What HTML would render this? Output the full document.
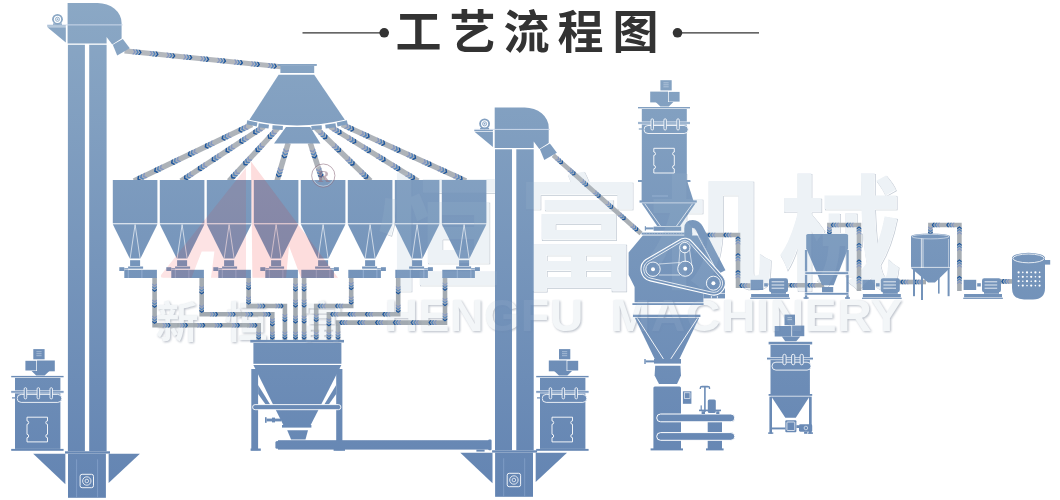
<!DOCTYPE html>
<html><head><meta charset="utf-8"><title>Process flow</title>
<style>html,body{margin:0;padding:0;background:#fff}svg{display:block}text{font-family:"Liberation Sans",sans-serif}</style>
</head><body>
<svg width="1060" height="500" viewBox="0 0 1060 500">
<defs><linearGradient id="g" gradientUnits="userSpaceOnUse" x1="0" y1="0" x2="0" y2="500"><stop offset="0" stop-color="#8ba8c5"/><stop offset="1" stop-color="#6384b2"/></linearGradient><linearGradient id="gp" gradientUnits="userSpaceOnUse" x1="0" y1="0" x2="0" y2="500"><stop offset="0" stop-color="#b8bbc0"/><stop offset="1" stop-color="#96a0a8"/></linearGradient><filter id="bl" x="-5%" y="-20%" width="110%" height="140%"><feGaussianBlur stdDeviation="0.9"/></filter></defs>
<rect width="1060" height="500" fill="#fff"/>
<text x="377 517 648 778" y="279" font-size="124" font-weight="bold" style="font-family:'Liberation Sans','Noto Sans CJK SC',sans-serif" fill="none" stroke="#93a3b5" stroke-opacity="0.55" stroke-width="0.7" transform="translate(0.7,0.7)">恒富机械</text>
<text x="377 517 648 778" y="279" font-size="124" font-weight="bold" style="font-family:'Liberation Sans','Noto Sans CJK SC',sans-serif" fill="#edf2f6">恒富机械</text>
<g fill="#55637a" opacity="0.4" filter="url(#bl)" transform="translate(1.1,1.3)"><text x="155.5 224.5 300.5" y="337.5" font-size="43" font-weight="bold" style="font-family:'Liberation Sans','Noto Sans CJK SC',sans-serif">新恒富</text><text transform="translate(384.4,330.6) scale(1.07,1)" font-size="43.5" font-weight="bold" letter-spacing="0.45">HENGFU</text><text transform="translate(610.5,330.6) scale(1.1,1)" font-size="43.5" font-weight="bold" letter-spacing="0.45">MACHINERY</text></g>
<g fill="#f3f6f8"><text x="155.5 224.5 300.5" y="337.5" font-size="43" font-weight="bold" style="font-family:'Liberation Sans','Noto Sans CJK SC',sans-serif">新恒富</text><text transform="translate(384.4,330.6) scale(1.07,1)" font-size="43.5" font-weight="bold" letter-spacing="0.45">HENGFU</text><text transform="translate(610.5,330.6) scale(1.1,1)" font-size="43.5" font-weight="bold" letter-spacing="0.45">MACHINERY</text></g>
<g fill="url(#g)">
<g fill="#333">
<line x1="302.5" y1="32.8" x2="383" y2="32.8" stroke="#333" stroke-width="1.2"/>
<line x1="679" y1="32.8" x2="759" y2="32.8" stroke="#333" stroke-width="1.2"/>
<circle cx="384.2" cy="32.8" r="4.8" fill="#333"/>
<circle cx="677.5" cy="32.8" r="4.8" fill="#333"/>
<text x="395.5 449.5 503.5 557.5 612.5" y="48" font-size="46" font-weight="bold" fill="#333" style="font-family:'Liberation Sans','Noto Sans CJK SC',sans-serif">工艺流程图</text>
</g>
<polyline points="124.5,50.9 281,66.8" fill="none" stroke="url(#gp)" stroke-width="5.1" stroke-linejoin="miter"/>
<polyline points="252,124.5 134,181" fill="none" stroke="url(#gp)" stroke-width="5.5" stroke-linejoin="miter"/>
<polyline points="264,126.5 181,181" fill="none" stroke="url(#gp)" stroke-width="5.5" stroke-linejoin="miter"/>
<polyline points="278,128 229,181" fill="none" stroke="url(#gp)" stroke-width="5.5" stroke-linejoin="miter"/>
<polyline points="288.2,143 277,181" fill="none" stroke="url(#gp)" stroke-width="5.5" stroke-linejoin="miter"/>
<polyline points="310.3,143 322.6,181" fill="none" stroke="url(#gp)" stroke-width="5.5" stroke-linejoin="miter"/>
<polyline points="316,128 370.5,181" fill="none" stroke="url(#gp)" stroke-width="5.5" stroke-linejoin="miter"/>
<polyline points="330,126.5 418,181" fill="none" stroke="url(#gp)" stroke-width="5.5" stroke-linejoin="miter"/>
<polyline points="342,124.5 466,181" fill="none" stroke="url(#gp)" stroke-width="5.5" stroke-linejoin="miter"/>
<path fill="#8497c2" d="M135.9,52.1 134.2,49.3 132.6,49.2 134.2,51.9 132.1,54.2 133.7,54.4zM152.8,53.8 151.2,51 149.5,50.9 151.1,53.6 149,56 150.6,56.1zM169.7,55.5 168.1,52.8 166.4,52.6 168,55.3 165.9,57.7 167.6,57.8zM186.6,57.2 185,54.5 183.3,54.3 184.9,57 182.8,59.4 184.5,59.6zM203.5,58.9 201.9,56.2 200.2,56 201.9,58.8 199.7,61.1 201.4,61.3zM220.4,60.6 218.8,57.9 217.2,57.8 218.8,60.5 216.6,62.8 218.3,63zM237.3,62.4 235.7,59.6 234.1,59.5 235.7,62.2 233.6,64.5 235.2,64.7zM254.3,64.1 252.6,61.4 251,61.2 252.6,63.9 250.5,66.3 252.1,66.4zM271.2,65.8 269.6,63.1 267.9,62.9 269.5,65.6 267.4,68 269,68.1zM244,128.3 247,129.9 248.7,129.2 245.6,127.5 246.3,124.2 244.7,125zM227.2,136.4 230.2,138 231.8,137.2 228.8,135.6 229.4,132.3 227.8,133zM210.3,144.5 213.3,146.1 214.9,145.3 211.9,143.7 212.6,140.3 210.9,141.1zM193.4,152.5 196.5,154.1 198.1,153.4 195.1,151.8 195.7,148.4 194.1,149.2zM176.6,160.6 179.6,162.2 181.2,161.4 178.2,159.8 178.8,156.5 177.2,157.3zM159.7,168.7 162.8,170.3 164.4,169.5 161.3,167.9 162,164.5 160.4,165.3zM142.9,176.8 145.9,178.4 147.5,177.6 144.5,176 145.1,172.6 143.5,173.4zM258.4,130.2 261.6,131.4 263.1,130.4 259.9,129.2 260.1,125.8 258.6,126.8zM244.6,139.3 247.8,140.5 249.3,139.5 246.1,138.3 246.2,134.9 244.7,135.9zM230.7,148.4 233.9,149.5 235.4,148.5 232.2,147.4 232.4,144 230.9,144.9zM216.9,157.4 220.1,158.6 221.6,157.6 218.4,156.4 218.6,153 217.1,154zM203.1,166.5 206.3,167.7 207.8,166.7 204.6,165.5 204.7,162.1 203.2,163.1zM189.2,175.6 192.4,176.8 193.9,175.8 190.7,174.6 190.9,171.2 189.4,172.2zM272.4,134 275.8,134.4 277,133.1 273.6,132.7 273,129.4 271.8,130.7zM260.2,147.3 263.6,147.7 264.8,146.3 261.4,146 260.8,142.6 259.5,143.9zM247.9,160.5 251.3,160.9 252.5,159.6 249.1,159.2 248.5,155.9 247.3,157.2zM235.7,173.8 239.1,174.2 240.3,172.8 236.9,172.5 236.3,169.1 235,170.4zM285.4,152.6 288.6,151.4 289.1,149.7 285.9,150.8 283.8,148.1 283.3,149.8zM279.8,171.6 283,170.4 283.5,168.7 280.3,169.8 278.2,167.1 277.7,168.8zM313.4,152.6 315.4,149.9 314.9,148.2 312.9,150.9 309.6,149.8 310.2,151.6zM319.6,171.6 321.6,168.9 321,167.2 319,169.9 315.8,168.8 316.3,170.6zM322.6,134.4 323,131 321.7,129.8 321.3,133.1 317.9,133.7 319.2,134.9zM336.2,147.6 336.7,144.3 335.4,143 334.9,146.4 331.5,146.9 332.8,148.2zM349.8,160.9 350.3,157.5 349,156.3 348.5,159.6 345.2,160.2 346.4,161.4zM363.4,174.1 363.9,170.8 362.6,169.5 362.2,172.9 358.8,173.4 360.1,174.7zM336.3,130.4 336,127 334.5,126.1 334.8,129.5 331.6,130.7 333.1,131.7zM351,139.5 350.7,136.1 349.2,135.1 349.4,138.5 346.3,139.8 347.8,140.8zM365.6,148.6 365.4,145.2 363.8,144.2 364.1,147.6 360.9,148.9 362.5,149.8zM380.3,157.7 380,154.2 378.5,153.3 378.8,156.7 375.6,158 377.1,158.9zM395,166.7 394.7,163.3 393.2,162.4 393.4,165.8 390.3,167.1 391.8,168zM409.6,175.8 409.4,172.4 407.8,171.5 408.1,174.9 404.9,176.1 406.5,177.1zM348.5,127.5 347.8,124.1 346.2,123.4 346.9,126.7 343.9,128.4 345.6,129.1zM364,134.5 363.3,131.2 361.7,130.5 362.4,133.8 359.4,135.5 361.1,136.2zM379.5,141.6 378.8,138.3 377.2,137.5 377.9,140.9 374.9,142.5 376.6,143.3zM395,148.7 394.3,145.3 392.7,144.6 393.4,147.9 390.4,149.6 392.1,150.3zM410.5,155.7 409.8,152.4 408.2,151.6 408.9,155 405.9,156.6 407.6,157.4zM426,162.8 425.3,159.5 423.7,158.7 424.4,162.1 421.4,163.7 423.1,164.5zM441.5,169.9 440.8,166.5 439.2,165.8 439.9,169.1 436.9,170.8 438.6,171.5zM457,176.9 456.3,173.6 454.7,172.8 455.4,176.2 452.4,177.8 454.1,178.6z"/>
<path fill="#5283bf" d="M138.8,52.4 137.2,49.6 135.5,49.5 137.1,52.2 135,54.5 136.7,54.7zM155.7,54.1 154.1,51.3 152.4,51.2 154,53.9 151.9,56.2 153.6,56.4zM172.6,55.8 171,53.1 169.3,52.9 171,55.6 168.8,58 170.5,58.1zM189.5,57.5 187.9,54.8 186.3,54.6 187.9,57.3 185.7,59.7 187.4,59.9zM206.4,59.2 204.8,56.5 203.2,56.3 204.8,59.1 202.7,61.4 204.3,61.6zM223.4,60.9 221.7,58.2 220.1,58 221.7,60.8 219.6,63.1 221.2,63.3zM240.3,62.7 238.6,59.9 237,59.8 238.6,62.5 236.5,64.8 238.1,65zM257.2,64.4 255.6,61.7 253.9,61.5 255.5,64.2 253.4,66.6 255,66.7zM274.1,66.1 272.5,63.4 270.8,63.2 272.4,65.9 270.3,68.3 272,68.4zM241.2,129.7 244.2,131.3 245.8,130.5 242.8,128.9 243.4,125.6 241.8,126.3zM224.3,137.8 227.3,139.4 228.9,138.6 225.9,137 226.6,133.6 224.9,134.4zM207.4,145.8 210.5,147.4 212.1,146.7 209.1,145.1 209.7,141.7 208.1,142.5zM190.6,153.9 193.6,155.5 195.2,154.7 192.2,153.1 192.8,149.8 191.2,150.5zM173.7,162 176.7,163.6 178.4,162.8 175.3,161.2 176,157.8 174.4,158.6zM156.9,170 159.9,171.7 161.5,170.9 158.5,169.3 159.1,165.9 157.5,166.7zM140,178.1 143,179.7 144.7,178.9 141.6,177.3 142.3,174 140.7,174.8zM255.7,131.9 258.9,133.1 260.4,132.1 257.2,130.9 257.4,127.5 255.9,128.5zM241.9,141 245.1,142.2 246.6,141.2 243.4,140 243.6,136.6 242.1,137.6zM228.1,150.1 231.3,151.3 232.8,150.3 229.6,149.1 229.8,145.7 228.3,146.7zM214.2,159.2 217.4,160.4 218.9,159.4 215.7,158.2 215.9,154.8 214.4,155.8zM200.4,168.3 203.6,169.4 205.1,168.5 201.9,167.3 202.1,163.9 200.6,164.8zM186.6,177.3 189.8,178.5 191.3,177.5 188.1,176.4 188.3,172.9 186.8,173.9zM270.3,136.4 273.7,136.7 274.9,135.4 271.5,135 270.9,131.7 269.6,133zM258,149.6 261.4,150 262.6,148.7 259.2,148.3 258.6,144.9 257.4,146.2zM245.8,162.9 249.2,163.2 250.4,161.9 247,161.5 246.4,158.2 245.1,159.5zM233.5,176.1 236.9,176.5 238.1,175.2 234.7,174.8 234.1,171.4 232.9,172.7zM284.5,155.6 287.7,154.4 288.2,152.7 285,153.9 282.9,151.2 282.4,152.9zM278.9,174.6 282.1,173.4 282.6,171.7 279.4,172.9 277.3,170.2 276.8,171.9zM314.4,155.7 316.4,152.9 315.8,151.2 313.8,153.9 310.6,152.9 311.2,154.6zM320.5,174.7 322.5,171.9 322,170.2 320,172.9 316.8,171.9 317.3,173.6zM324.8,136.6 325.3,133.2 324,132 323.6,135.4 320.2,135.9 321.5,137.2zM338.5,149.9 338.9,146.5 337.6,145.2 337.2,148.6 333.8,149.2 335.1,150.4zM352.1,163.1 352.6,159.7 351.3,158.5 350.8,161.9 347.4,162.4 348.7,163.7zM365.7,176.4 366.2,173 364.9,171.7 364.4,175.1 361.1,175.7 362.3,176.9zM339,132.1 338.7,128.7 337.2,127.7 337.5,131.1 334.3,132.4 335.8,133.3zM353.7,141.2 353.4,137.7 351.9,136.8 352.1,140.2 349,141.5 350.5,142.4zM368.3,150.2 368.1,146.8 366.5,145.9 366.8,149.3 363.6,150.6 365.2,151.5zM383,159.3 382.7,155.9 381.2,155 381.5,158.4 378.3,159.6 379.8,160.6zM397.7,168.4 397.4,165 395.9,164.1 396.1,167.5 393,168.7 394.5,169.7zM412.3,177.5 412.1,174.1 410.5,173.1 410.8,176.5 407.6,177.8 409.2,178.8zM351.4,128.8 350.7,125.5 349.1,124.7 349.8,128.1 346.8,129.7 348.4,130.5zM366.9,135.9 366.2,132.5 364.6,131.8 365.3,135.1 362.3,136.8 363.9,137.5zM382.4,142.9 381.7,139.6 380.1,138.8 380.8,142.2 377.8,143.8 379.4,144.6zM397.9,150 397.2,146.6 395.6,145.9 396.3,149.2 393.3,150.9 394.9,151.6zM413.4,157 412.7,153.7 411.1,153 411.8,156.3 408.8,158 410.4,158.7zM428.9,164.1 428.2,160.8 426.6,160 427.3,163.4 424.3,165 425.9,165.8zM444.4,171.2 443.7,167.8 442.1,167.1 442.8,170.4 439.8,172.1 441.4,172.8zM459.9,178.2 459.2,174.9 457.6,174.1 458.3,177.5 455.3,179.2 456.9,179.9z"/>
<path fill="#1b559c" d="M141.7,52.6 140.1,49.9 138.4,49.8 140.1,52.5 137.9,54.8 139.6,55zM158.6,54.4 157,51.6 155.4,51.5 157,54.2 154.8,56.5 156.5,56.7zM175.5,56.1 173.9,53.4 172.3,53.2 173.9,55.9 171.7,58.3 173.4,58.4zM192.5,57.8 190.8,55.1 189.2,54.9 190.8,57.6 188.7,60 190.3,60.1zM209.4,59.5 207.7,56.8 206.1,56.6 207.7,59.4 205.6,61.7 207.2,61.9zM226.3,61.2 224.7,58.5 223,58.3 224.6,61.1 222.5,63.4 224.1,63.6zM243.2,63 241.6,60.2 239.9,60.1 241.5,62.8 239.4,65.1 241.1,65.3zM260.1,64.7 258.5,61.9 256.8,61.8 258.4,64.5 256.3,66.9 258,67zM277,66.4 275.4,63.7 273.7,63.5 275.4,66.2 273.2,68.6 274.9,68.7zM238.3,131.1 241.3,132.7 242.9,131.9 239.9,130.3 240.6,126.9 238.9,127.7zM221.4,139.1 224.5,140.7 226.1,140 223.1,138.4 223.7,135 222.1,135.8zM204.6,147.2 207.6,148.8 209.2,148 206.2,146.4 206.8,143.1 205.2,143.8zM187.7,155.3 190.7,156.9 192.4,156.1 189.3,154.5 190,151.1 188.4,151.9zM170.9,163.3 173.9,164.9 175.5,164.2 172.5,162.6 173.1,159.2 171.5,160zM154,171.4 157,173 158.7,172.2 155.6,170.6 156.3,167.3 154.7,168.1zM137.2,179.5 140.2,181.1 141.8,180.3 138.8,178.7 139.4,175.4 137.8,176.1zM253.1,133.7 256.3,134.8 257.8,133.9 254.6,132.7 254.8,129.3 253.3,130.2zM239.3,142.7 242.5,143.9 244,142.9 240.8,141.8 240.9,138.3 239.4,139.3zM225.4,151.8 228.6,153 230.1,152 226.9,150.8 227.1,147.4 225.6,148.4zM211.6,160.9 214.8,162.1 216.3,161.1 213.1,159.9 213.3,156.5 211.8,157.5zM197.8,170 201,171.2 202.5,170.2 199.3,169 199.4,165.6 197.9,166.6zM183.9,179.1 187.1,180.3 188.6,179.3 185.4,178.1 185.6,174.7 184.1,175.7zM268.1,138.7 271.5,139.1 272.7,137.7 269.3,137.4 268.7,134 267.5,135.3zM255.9,151.9 259.3,152.3 260.5,151 257.1,150.6 256.5,147.3 255.2,148.6zM243.6,165.2 247,165.6 248.2,164.2 244.8,163.9 244.2,160.5 243,161.8zM231.4,178.4 234.8,178.8 236,177.5 232.6,177.1 232,173.8 230.7,175.1zM283.6,158.6 286.8,157.5 287.3,155.8 284.1,156.9 282,154.2 281.5,155.9zM278,177.6 281.2,176.5 281.7,174.8 278.5,175.9 276.4,173.2 275.9,174.9zM315.4,158.7 317.4,155.9 316.8,154.2 314.8,157 311.6,155.9 312.1,157.6zM321.5,177.7 323.5,174.9 323,173.2 321,176 317.7,174.9 318.3,176.6zM327.1,138.8 327.6,135.4 326.3,134.2 325.8,137.6 322.5,138.1 323.7,139.4zM340.7,152.1 341.2,148.7 339.9,147.4 339.5,150.8 336.1,151.4 337.4,152.6zM354.4,165.3 354.8,161.9 353.5,160.7 353.1,164.1 349.7,164.6 351,165.9zM368,178.6 368.5,175.2 367.2,173.9 366.7,177.3 363.3,177.9 364.6,179.1zM341.7,133.7 341.4,130.3 339.9,129.4 340.2,132.8 337,134.1 338.5,135zM356.4,142.8 356.1,139.4 354.6,138.5 354.8,141.9 351.7,143.1 353.2,144.1zM371,151.9 370.7,148.5 369.2,147.6 369.5,151 366.3,152.2 367.8,153.2zM385.7,161 385.4,157.6 383.9,156.6 384.2,160 381,161.3 382.5,162.3zM400.4,170.1 400.1,166.7 398.6,165.7 398.8,169.1 395.7,170.4 397.2,171.3zM415,179.2 414.7,175.7 413.2,174.8 413.5,178.2 410.3,179.5 411.8,180.4zM354.3,130.1 353.6,126.8 352,126 352.7,129.4 349.7,131 351.3,131.8zM369.8,137.2 369.1,133.8 367.5,133.1 368.2,136.4 365.2,138.1 366.8,138.8zM385.3,144.2 384.6,140.9 383,140.1 383.7,143.5 380.7,145.2 382.3,145.9zM400.8,151.3 400.1,148 398.5,147.2 399.2,150.6 396.2,152.2 397.8,153zM416.3,158.4 415.6,155 414,154.3 414.7,157.6 411.7,159.3 413.3,160zM431.8,165.4 431.1,162.1 429.5,161.3 430.2,164.7 427.2,166.3 428.8,167.1zM447.3,172.5 446.6,169.1 445,168.4 445.7,171.7 442.7,173.4 444.3,174.1zM462.8,179.5 462.1,176.2 460.5,175.5 461.2,178.8 458.2,180.5 459.8,181.2z"/>
<rect x="277.7" y="64" width="39.1" height="1.9"/>
<rect x="280.4" y="65.8" width="33.8" height="7.2"/>
<path d="M278.6,74.8H314.2L344.8,119.8Q297,131 249.4,119.8z"/>
<rect x="-5.2" y="-2" width="10.4" height="4" fill="#819fc0" transform="translate(252,123.4) rotate(12)"/>
<rect x="-5.2" y="-2" width="10.4" height="4" fill="#819fc0" transform="translate(263.6,125.9) rotate(8)"/>
<rect x="-5.2" y="-2" width="10.4" height="4" fill="#819fc0" transform="translate(277.6,127.6) rotate(4)"/>
<rect x="-5.2" y="-2" width="10.4" height="4" fill="#819fc0" transform="translate(316.6,127.6) rotate(-4)"/>
<rect x="-5.2" y="-2" width="10.4" height="4" fill="#819fc0" transform="translate(330.6,125.9) rotate(-8)"/>
<rect x="-5.2" y="-2" width="10.4" height="4" fill="#819fc0" transform="translate(342.2,123.4) rotate(-12)"/>
<polygon points="286,127 310.2,127 320.4,143.6 274,143.6"/>
<polyline points="154.6,277 154.6,325.2 258.7,325.2 258.7,341" fill="none" stroke="url(#gp)" stroke-width="4.6" stroke-linejoin="miter"/>
<polyline points="201.7,277 201.7,314.2 272.3,314.2 272.3,341" fill="none" stroke="url(#gp)" stroke-width="4.6" stroke-linejoin="miter"/>
<polyline points="248.6,277 248.6,306 284.9,306 284.9,341" fill="none" stroke="url(#gp)" stroke-width="4.6" stroke-linejoin="miter"/>
<polyline points="295.5,277 295.5,341" fill="none" stroke="url(#gp)" stroke-width="4.6" stroke-linejoin="miter"/>
<polyline points="304.1,277 304.1,341" fill="none" stroke="url(#gp)" stroke-width="4.6" stroke-linejoin="miter"/>
<polyline points="351.2,277 351.2,306 316.2,306 316.2,341" fill="none" stroke="url(#gp)" stroke-width="4.6" stroke-linejoin="miter"/>
<polyline points="398.2,277 398.2,314.2 328.9,314.2 328.9,341" fill="none" stroke="url(#gp)" stroke-width="4.6" stroke-linejoin="miter"/>
<polyline points="445,277 445,322.6 338,322.6 338,341" fill="none" stroke="url(#gp)" stroke-width="4.6" stroke-linejoin="miter"/>
<path fill="#8497c2" d="M154.6,286.6 156.9,284.9 156.9,283.4 154.6,285.1 152.3,283.4 152.3,284.9zM154.6,302.6 156.9,300.9 156.9,299.4 154.6,301.1 152.3,299.4 152.3,300.9zM154.6,318.7 156.9,317 156.9,315.5 154.6,317.2 152.3,315.5 152.3,317zM165.4,325.2 163.8,322.9 162.2,322.9 163.9,325.2 162.2,327.5 163.8,327.5zM182.8,325.2 181.1,322.9 179.6,322.9 181.3,325.2 179.6,327.5 181.1,327.5zM200.1,325.2 198.4,322.9 196.9,322.9 198.6,325.2 196.9,327.5 198.4,327.5zM217.5,325.2 215.8,322.9 214.3,322.9 216,325.2 214.3,327.5 215.8,327.5zM234.8,325.2 233.1,322.9 231.6,322.9 233.3,325.2 231.6,327.5 233.1,327.5zM252.2,325.2 250.5,322.9 249,322.9 250.7,325.2 249,327.5 250.5,327.5zM258.7,334.5 261,332.8 261,331.3 258.7,333 256.4,331.3 256.4,332.8zM201.7,289.1 204,287.4 204,285.9 201.7,287.6 199.4,285.9 199.4,287.4zM201.7,307.7 204,306 204,304.5 201.7,306.2 199.4,304.5 199.4,306zM212.8,314.2 211.2,311.9 209.7,311.9 211.3,314.2 209.7,316.5 211.2,316.5zM230.5,314.2 228.8,311.9 227.3,311.9 229,314.2 227.3,316.5 228.8,316.5zM248.1,314.2 246.4,311.9 244.9,311.9 246.6,314.2 244.9,316.5 246.4,316.5zM265.8,314.2 264.1,311.9 262.6,311.9 264.3,314.2 262.6,316.5 264.1,316.5zM272.3,321.1 274.6,319.4 274.6,317.9 272.3,319.6 270,317.9 270,319.4zM272.3,334.5 274.6,332.8 274.6,331.3 272.3,333 270,331.3 270,332.8zM248.6,285 250.9,283.3 250.9,281.8 248.6,283.5 246.3,281.8 246.3,283.3zM248.6,299.5 250.9,297.8 250.9,296.3 248.6,298 246.3,296.3 246.3,297.8zM260.2,306 258.6,303.7 257.1,303.7 258.8,306 257.1,308.3 258.6,308.3zM278.4,306 276.7,303.7 275.2,303.7 276.9,306 275.2,308.3 276.7,308.3zM284.9,317 287.2,315.3 287.2,313.8 284.9,315.5 282.6,313.8 282.6,315.3zM284.9,334.5 287.2,332.8 287.2,331.3 284.9,333 282.6,331.3 282.6,332.8zM295.5,286.5 297.8,284.8 297.8,283.3 295.5,285 293.2,283.3 293.2,284.8zM295.5,302.5 297.8,300.8 297.8,299.3 295.5,301 293.2,299.3 293.2,300.8zM295.5,318.5 297.8,316.8 297.8,315.3 295.5,317 293.2,315.3 293.2,316.8zM295.5,334.5 297.8,332.8 297.8,331.3 295.5,333 293.2,331.3 293.2,332.8zM304.1,286.5 306.4,284.8 306.4,283.3 304.1,285 301.8,283.3 301.8,284.8zM304.1,302.5 306.4,300.8 306.4,299.3 304.1,301 301.8,299.3 301.8,300.8zM304.1,318.5 306.4,316.8 306.4,315.3 304.1,317 301.8,315.3 301.8,316.8zM304.1,334.5 306.4,332.8 306.4,331.3 304.1,333 301.8,331.3 301.8,332.8zM351.2,285 353.5,283.3 353.5,281.8 351.2,283.5 348.9,281.8 348.9,283.3zM351.2,299.5 353.5,297.8 353.5,296.3 351.2,298 348.9,296.3 348.9,297.8zM340.2,306 341.9,308.3 343.4,308.3 341.7,306 343.4,303.7 341.9,303.7zM322.7,306 324.4,308.3 325.9,308.3 324.2,306 325.9,303.7 324.4,303.7zM316.2,317 318.5,315.3 318.5,313.8 316.2,315.5 313.9,313.8 313.9,315.3zM316.2,334.5 318.5,332.8 318.5,331.3 316.2,333 313.9,331.3 313.9,332.8zM398.2,289.1 400.5,287.4 400.5,285.9 398.2,287.6 395.9,285.9 395.9,287.4zM398.2,307.7 400.5,306 400.5,304.5 398.2,306.2 395.9,304.5 395.9,306zM387.4,314.2 389.1,316.5 390.6,316.5 388.9,314.2 390.6,311.9 389.1,311.9zM370.1,314.2 371.8,316.5 373.2,316.5 371.6,314.2 373.2,311.9 371.8,311.9zM352.7,314.2 354.4,316.5 355.9,316.5 354.2,314.2 355.9,311.9 354.4,311.9zM335.4,314.2 337.1,316.5 338.6,316.5 336.9,314.2 338.6,311.9 337.1,311.9zM328.9,321.1 331.2,319.4 331.2,317.9 328.9,319.6 326.6,317.9 326.6,319.4zM328.9,334.5 331.2,332.8 331.2,331.3 328.9,333 326.6,331.3 326.6,332.8zM445,285.7 447.3,284 447.3,282.5 445,284.2 442.7,282.5 442.7,284zM445,300.9 447.3,299.2 447.3,297.7 445,299.4 442.7,297.7 442.7,299.2zM445,316.1 447.3,314.4 447.3,312.9 445,314.6 442.7,312.9 442.7,314.4zM433.7,322.6 435.4,324.9 436.9,324.9 435.2,322.6 436.9,320.3 435.4,320.3zM415.8,322.6 417.5,324.9 419,324.9 417.3,322.6 419,320.3 417.5,320.3zM398,322.6 399.7,324.9 401.2,324.9 399.5,322.6 401.2,320.3 399.7,320.3zM380.2,322.6 381.9,324.9 383.4,324.9 381.7,322.6 383.4,320.3 381.9,320.3zM362.3,322.6 364,324.9 365.5,324.9 363.8,322.6 365.5,320.3 364,320.3zM344.5,322.6 346.2,324.9 347.7,324.9 346,322.6 347.7,320.3 346.2,320.3zM338,334.5 340.3,332.8 340.3,331.3 338,333 335.7,331.3 335.7,332.8z"/>
<path fill="#5283bf" d="M154.6,289.2 156.9,287.5 156.9,286 154.6,287.7 152.3,286 152.3,287.5zM154.6,305.3 156.9,303.6 156.9,302.1 154.6,303.8 152.3,302.1 152.3,303.6zM154.6,321.4 156.9,319.6 156.9,318.1 154.6,319.9 152.3,318.1 152.3,319.6zM168.1,325.2 166.4,322.9 164.9,322.9 166.6,325.2 164.9,327.5 166.4,327.5zM185.4,325.2 183.8,322.9 182.2,322.9 183.9,325.2 182.2,327.5 183.8,327.5zM202.8,325.2 201.1,322.9 199.6,322.9 201.3,325.2 199.6,327.5 201.1,327.5zM220.1,325.2 218.4,322.9 216.9,322.9 218.6,325.2 216.9,327.5 218.4,327.5zM237.5,325.2 235.8,322.9 234.3,322.9 236,325.2 234.3,327.5 235.8,327.5zM254.8,325.2 253.2,322.9 251.7,322.9 253.3,325.2 251.7,327.5 253.2,327.5zM258.7,337.2 261,335.4 261,333.9 258.7,335.7 256.4,333.9 256.4,335.4zM201.7,291.8 204,290 204,288.5 201.7,290.2 199.4,288.5 199.4,290zM201.7,310.4 204,308.6 204,307.1 201.7,308.9 199.4,307.1 199.4,308.6zM215.5,314.2 213.8,311.9 212.3,311.9 214,314.2 212.3,316.5 213.8,316.5zM233.2,314.2 231.5,311.9 230,311.9 231.7,314.2 230,316.5 231.5,316.5zM250.8,314.2 249.1,311.9 247.6,311.9 249.3,314.2 247.6,316.5 249.1,316.5zM268.5,314.2 266.8,311.9 265.2,311.9 267,314.2 265.2,316.5 266.8,316.5zM272.3,323.8 274.6,322 274.6,320.5 272.3,322.2 270,320.5 270,322zM272.3,337.2 274.6,335.4 274.6,333.9 272.3,335.7 270,333.9 270,335.4zM248.6,287.7 250.9,285.9 250.9,284.4 248.6,286.2 246.3,284.4 246.3,285.9zM248.6,302.2 250.9,300.4 250.9,298.9 248.6,300.7 246.3,298.9 246.3,300.4zM262.9,306 261.2,303.7 259.7,303.7 261.4,306 259.7,308.3 261.2,308.3zM281.1,306 279.3,303.7 277.8,303.7 279.6,306 277.8,308.3 279.3,308.3zM284.9,319.7 287.2,317.9 287.2,316.4 284.9,318.2 282.6,316.4 282.6,317.9zM284.9,337.2 287.2,335.4 287.2,333.9 284.9,335.7 282.6,333.9 282.6,335.4zM295.5,289.2 297.8,287.4 297.8,285.9 295.5,287.7 293.2,285.9 293.2,287.4zM295.5,305.2 297.8,303.4 297.8,301.9 295.5,303.7 293.2,301.9 293.2,303.4zM295.5,321.2 297.8,319.4 297.8,317.9 295.5,319.7 293.2,317.9 293.2,319.4zM295.5,337.2 297.8,335.4 297.8,333.9 295.5,335.7 293.2,333.9 293.2,335.4zM304.1,289.2 306.4,287.4 306.4,285.9 304.1,287.7 301.8,285.9 301.8,287.4zM304.1,305.2 306.4,303.4 306.4,301.9 304.1,303.7 301.8,301.9 301.8,303.4zM304.1,321.2 306.4,319.4 306.4,317.9 304.1,319.7 301.8,317.9 301.8,319.4zM304.1,337.2 306.4,335.4 306.4,333.9 304.1,335.7 301.8,333.9 301.8,335.4zM351.2,287.7 353.5,285.9 353.5,284.4 351.2,286.2 348.9,284.4 348.9,285.9zM351.2,302.2 353.5,300.4 353.5,298.9 351.2,300.7 348.9,298.9 348.9,300.4zM337.5,306 339.2,308.3 340.8,308.3 339,306 340.8,303.7 339.2,303.7zM320,306 321.8,308.3 323.2,308.3 321.5,306 323.2,303.7 321.8,303.7zM316.2,319.7 318.5,317.9 318.5,316.4 316.2,318.2 313.9,316.4 313.9,317.9zM316.2,337.2 318.5,335.4 318.5,333.9 316.2,335.7 313.9,333.9 313.9,335.4zM398.2,291.8 400.5,290 400.5,288.5 398.2,290.2 395.9,288.5 395.9,290zM398.2,310.4 400.5,308.6 400.5,307.1 398.2,308.9 395.9,307.1 395.9,308.6zM384.7,314.2 386.4,316.5 387.9,316.5 386.2,314.2 387.9,311.9 386.4,311.9zM367.4,314.2 369.1,316.5 370.6,316.5 368.9,314.2 370.6,311.9 369.1,311.9zM350.1,314.2 351.8,316.5 353.3,316.5 351.6,314.2 353.3,311.9 351.8,311.9zM332.7,314.2 334.4,316.5 335.9,316.5 334.2,314.2 335.9,311.9 334.4,311.9zM328.9,323.8 331.2,322 331.2,320.5 328.9,322.2 326.6,320.5 326.6,322zM328.9,337.2 331.2,335.4 331.2,333.9 328.9,335.7 326.6,333.9 326.6,335.4zM445,288.4 447.3,286.6 447.3,285.1 445,286.9 442.7,285.1 442.7,286.6zM445,303.6 447.3,301.8 447.3,300.3 445,302.1 442.7,300.3 442.7,301.8zM445,318.8 447.3,317.1 447.3,315.6 445,317.3 442.7,315.6 442.7,317.1zM431,322.6 432.7,324.9 434.2,324.9 432.5,322.6 434.2,320.3 432.7,320.3zM413.2,322.6 414.9,324.9 416.4,324.9 414.7,322.6 416.4,320.3 414.9,320.3zM395.3,322.6 397.1,324.9 398.6,324.9 396.8,322.6 398.6,320.3 397.1,320.3zM377.5,322.6 379.2,324.9 380.7,324.9 379,322.6 380.7,320.3 379.2,320.3zM359.7,322.6 361.4,324.9 362.9,324.9 361.2,322.6 362.9,320.3 361.4,320.3zM341.8,322.6 343.6,324.9 345.1,324.9 343.3,322.6 345.1,320.3 343.6,320.3zM338,337.2 340.3,335.4 340.3,333.9 338,335.7 335.7,333.9 335.7,335.4z"/>
<path fill="#1b559c" d="M154.6,291.9 156.9,290.2 156.9,288.7 154.6,290.4 152.3,288.7 152.3,290.2zM154.6,307.9 156.9,306.2 156.9,304.7 154.6,306.4 152.3,304.7 152.3,306.2zM154.6,324 156.9,322.3 156.9,320.8 154.6,322.5 152.3,320.8 152.3,322.3zM170.8,325.2 169.1,322.9 167.6,322.9 169.2,325.2 167.6,327.5 169.1,327.5zM188.1,325.2 186.4,322.9 184.9,322.9 186.6,325.2 184.9,327.5 186.4,327.5zM205.4,325.2 203.8,322.9 202.2,322.9 203.9,325.2 202.2,327.5 203.8,327.5zM222.8,325.2 221.1,322.9 219.6,322.9 221.3,325.2 219.6,327.5 221.1,327.5zM240.1,325.2 238.4,322.9 236.9,322.9 238.6,325.2 236.9,327.5 238.4,327.5zM257.5,325.2 255.8,322.9 254.3,322.9 256,325.2 254.3,327.5 255.8,327.5zM258.7,339.8 261,338.1 261,336.6 258.7,338.3 256.4,336.6 256.4,338.1zM201.7,294.4 204,292.7 204,291.2 201.7,292.9 199.4,291.2 199.4,292.7zM201.7,313 204,311.3 204,309.8 201.7,311.5 199.4,309.8 199.4,311.3zM218.2,314.2 216.5,311.9 215,311.9 216.7,314.2 215,316.5 216.5,316.5zM235.8,314.2 234.1,311.9 232.6,311.9 234.3,314.2 232.6,316.5 234.1,316.5zM253.4,314.2 251.8,311.9 250.2,311.9 251.9,314.2 250.2,316.5 251.8,316.5zM271.1,314.2 269.4,311.9 267.9,311.9 269.6,314.2 267.9,316.5 269.4,316.5zM272.3,326.4 274.6,324.7 274.6,323.2 272.3,324.9 270,323.2 270,324.7zM272.3,339.8 274.6,338.1 274.6,336.6 272.3,338.3 270,336.6 270,338.1zM248.6,290.3 250.9,288.6 250.9,287.1 248.6,288.8 246.3,287.1 246.3,288.6zM248.6,304.8 250.9,303.1 250.9,301.6 248.6,303.3 246.3,301.6 246.3,303.1zM265.6,306 263.9,303.7 262.4,303.7 264.1,306 262.4,308.3 263.9,308.3zM283.7,306 282,303.7 280.5,303.7 282.2,306 280.5,308.3 282,308.3zM284.9,322.3 287.2,320.6 287.2,319.1 284.9,320.8 282.6,319.1 282.6,320.6zM284.9,339.8 287.2,338.1 287.2,336.6 284.9,338.3 282.6,336.6 282.6,338.1zM295.5,291.8 297.8,290.1 297.8,288.6 295.5,290.3 293.2,288.6 293.2,290.1zM295.5,307.8 297.8,306.1 297.8,304.6 295.5,306.3 293.2,304.6 293.2,306.1zM295.5,323.8 297.8,322.1 297.8,320.6 295.5,322.3 293.2,320.6 293.2,322.1zM295.5,339.8 297.8,338.1 297.8,336.6 295.5,338.3 293.2,336.6 293.2,338.1zM304.1,291.8 306.4,290.1 306.4,288.6 304.1,290.3 301.8,288.6 301.8,290.1zM304.1,307.8 306.4,306.1 306.4,304.6 304.1,306.3 301.8,304.6 301.8,306.1zM304.1,323.8 306.4,322.1 306.4,320.6 304.1,322.3 301.8,320.6 301.8,322.1zM304.1,339.8 306.4,338.1 306.4,336.6 304.1,338.3 301.8,336.6 301.8,338.1zM351.2,290.3 353.5,288.6 353.5,287.1 351.2,288.8 348.9,287.1 348.9,288.6zM351.2,304.8 353.5,303.1 353.5,301.6 351.2,303.3 348.9,301.6 348.9,303.1zM334.9,306 336.6,308.3 338.1,308.3 336.4,306 338.1,303.7 336.6,303.7zM317.4,306 319.1,308.3 320.6,308.3 318.9,306 320.6,303.7 319.1,303.7zM316.2,322.3 318.5,320.6 318.5,319.1 316.2,320.8 313.9,319.1 313.9,320.6zM316.2,339.8 318.5,338.1 318.5,336.6 316.2,338.3 313.9,336.6 313.9,338.1zM398.2,294.4 400.5,292.7 400.5,291.2 398.2,292.9 395.9,291.2 395.9,292.7zM398.2,313 400.5,311.3 400.5,309.8 398.2,311.5 395.9,309.8 395.9,311.3zM382.1,314.2 383.8,316.5 385.3,316.5 383.6,314.2 385.3,311.9 383.8,311.9zM364.8,314.2 366.4,316.5 367.9,316.5 366.2,314.2 367.9,311.9 366.4,311.9zM347.4,314.2 349.1,316.5 350.6,316.5 348.9,314.2 350.6,311.9 349.1,311.9zM330.1,314.2 331.8,316.5 333.3,316.5 331.6,314.2 333.3,311.9 331.8,311.9zM328.9,326.4 331.2,324.7 331.2,323.2 328.9,324.9 326.6,323.2 326.6,324.7zM328.9,339.8 331.2,338.1 331.2,336.6 328.9,338.3 326.6,336.6 326.6,338.1zM445,291 447.3,289.3 447.3,287.8 445,289.5 442.7,287.8 442.7,289.3zM445,306.2 447.3,304.5 447.3,303 445,304.7 442.7,303 442.7,304.5zM445,321.4 447.3,319.7 447.3,318.2 445,319.9 442.7,318.2 442.7,319.7zM428.4,322.6 430.1,324.9 431.6,324.9 429.9,322.6 431.6,320.3 430.1,320.3zM410.5,322.6 412.2,324.9 413.7,324.9 412,322.6 413.7,320.3 412.2,320.3zM392.7,322.6 394.4,324.9 395.9,324.9 394.2,322.6 395.9,320.3 394.4,320.3zM374.9,322.6 376.6,324.9 378.1,324.9 376.4,322.6 378.1,320.3 376.6,320.3zM357,322.6 358.7,324.9 360.2,324.9 358.5,322.6 360.2,320.3 358.7,320.3zM339.2,322.6 340.9,324.9 342.4,324.9 340.7,322.6 342.4,320.3 340.9,320.3zM338,339.8 340.3,338.1 340.3,336.6 338,338.3 335.7,336.6 335.7,338.1z"/>
<rect x="112.8" y="180" width="44.6" height="43.3"/>
<polygon points="112.8,224.3 157.4,224.3 140.4,258.6 129.8,258.6"/>
<path d="M130.1,258.6L135.1,224.6L140.1,258.6" fill="none" stroke="#fff" stroke-width="0.7" opacity="0.9"/>
<rect x="130.1" y="260.2" width="10" height="5.8"/>
<rect x="128.1" y="266.5" width="15" height="2.2"/>
<rect x="119.3" y="267.2" width="5" height="3.8"/>
<rect x="124.3" y="268.2" width="3.8" height="1.2"/>
<rect x="124.3" y="269.8" width="32.6" height="8.2"/>
<line x1="128.3" y1="269.8" x2="128.3" y2="278" stroke="#a9c0df" stroke-width="0.6"/>
<line x1="141.9" y1="269.8" x2="141.9" y2="278" stroke="#a9c0df" stroke-width="0.6"/>
<rect x="159.8" y="180" width="44.6" height="43.3"/>
<polygon points="159.8,224.3 204.4,224.3 187.4,258.6 176.8,258.6"/>
<path d="M177.1,258.6L182.1,224.6L187.1,258.6" fill="none" stroke="#fff" stroke-width="0.7" opacity="0.9"/>
<rect x="177.1" y="260.2" width="10" height="5.8"/>
<rect x="175.1" y="266.5" width="15" height="2.2"/>
<rect x="166.3" y="267.2" width="5" height="3.8"/>
<rect x="171.3" y="268.2" width="3.8" height="1.2"/>
<rect x="171.3" y="269.8" width="32.6" height="8.2"/>
<line x1="175.3" y1="269.8" x2="175.3" y2="278" stroke="#a9c0df" stroke-width="0.6"/>
<line x1="188.9" y1="269.8" x2="188.9" y2="278" stroke="#a9c0df" stroke-width="0.6"/>
<rect x="206.8" y="180" width="44.6" height="43.3"/>
<polygon points="206.8,224.3 251.4,224.3 234.4,258.6 223.8,258.6"/>
<path d="M224.1,258.6L229.1,224.6L234.1,258.6" fill="none" stroke="#fff" stroke-width="0.7" opacity="0.9"/>
<rect x="224.1" y="260.2" width="10" height="5.8"/>
<rect x="222.1" y="266.5" width="15" height="2.2"/>
<rect x="213.3" y="267.2" width="5" height="3.8"/>
<rect x="218.3" y="268.2" width="3.8" height="1.2"/>
<rect x="218.3" y="269.8" width="32.6" height="8.2"/>
<line x1="222.3" y1="269.8" x2="222.3" y2="278" stroke="#a9c0df" stroke-width="0.6"/>
<line x1="235.9" y1="269.8" x2="235.9" y2="278" stroke="#a9c0df" stroke-width="0.6"/>
<rect x="253.8" y="180" width="44.6" height="43.3"/>
<polygon points="253.8,224.3 298.4,224.3 281.4,258.6 270.8,258.6"/>
<path d="M271.1,258.6L276.1,224.6L281.1,258.6" fill="none" stroke="#fff" stroke-width="0.7" opacity="0.9"/>
<rect x="271.1" y="260.2" width="10" height="5.8"/>
<rect x="269.1" y="266.5" width="15" height="2.2"/>
<rect x="260.3" y="267.2" width="5" height="3.8"/>
<rect x="265.3" y="268.2" width="3.8" height="1.2"/>
<rect x="265.3" y="269.8" width="32.6" height="8.2"/>
<line x1="269.3" y1="269.8" x2="269.3" y2="278" stroke="#a9c0df" stroke-width="0.6"/>
<line x1="282.9" y1="269.8" x2="282.9" y2="278" stroke="#a9c0df" stroke-width="0.6"/>
<rect x="300.8" y="180" width="44.6" height="43.3"/>
<polygon points="300.8,224.3 345.4,224.3 328.4,258.6 317.8,258.6"/>
<path d="M318.1,258.6L323.1,224.6L328.1,258.6" fill="none" stroke="#fff" stroke-width="0.7" opacity="0.9"/>
<rect x="318.1" y="260.2" width="10" height="5.8"/>
<rect x="315.1" y="266.5" width="15" height="2.2"/>
<rect x="333.9" y="267.2" width="5" height="3.8"/>
<rect x="330.1" y="268.2" width="3.8" height="1.2"/>
<rect x="301.3" y="269.8" width="32.6" height="8.2"/>
<line x1="329.9" y1="269.8" x2="329.9" y2="278" stroke="#a9c0df" stroke-width="0.6"/>
<line x1="316.3" y1="269.8" x2="316.3" y2="278" stroke="#a9c0df" stroke-width="0.6"/>
<rect x="347.8" y="180" width="44.6" height="43.3"/>
<polygon points="347.8,224.3 392.4,224.3 375.4,258.6 364.8,258.6"/>
<path d="M365.1,258.6L370.1,224.6L375.1,258.6" fill="none" stroke="#fff" stroke-width="0.7" opacity="0.9"/>
<rect x="365.1" y="260.2" width="10" height="5.8"/>
<rect x="362.1" y="266.5" width="15" height="2.2"/>
<rect x="380.9" y="267.2" width="5" height="3.8"/>
<rect x="377.1" y="268.2" width="3.8" height="1.2"/>
<rect x="348.3" y="269.8" width="32.6" height="8.2"/>
<line x1="376.9" y1="269.8" x2="376.9" y2="278" stroke="#a9c0df" stroke-width="0.6"/>
<line x1="363.3" y1="269.8" x2="363.3" y2="278" stroke="#a9c0df" stroke-width="0.6"/>
<rect x="394.8" y="180" width="44.6" height="43.3"/>
<polygon points="394.8,224.3 439.4,224.3 422.4,258.6 411.8,258.6"/>
<path d="M412.1,258.6L417.1,224.6L422.1,258.6" fill="none" stroke="#fff" stroke-width="0.7" opacity="0.9"/>
<rect x="412.1" y="260.2" width="10" height="5.8"/>
<rect x="409.1" y="266.5" width="15" height="2.2"/>
<rect x="427.9" y="267.2" width="5" height="3.8"/>
<rect x="424.1" y="268.2" width="3.8" height="1.2"/>
<rect x="395.3" y="269.8" width="32.6" height="8.2"/>
<line x1="423.9" y1="269.8" x2="423.9" y2="278" stroke="#a9c0df" stroke-width="0.6"/>
<line x1="410.3" y1="269.8" x2="410.3" y2="278" stroke="#a9c0df" stroke-width="0.6"/>
<rect x="441.8" y="180" width="44.6" height="43.3"/>
<polygon points="441.8,224.3 486.4,224.3 469.4,258.6 458.8,258.6"/>
<path d="M459.1,258.6L464.1,224.6L469.1,258.6" fill="none" stroke="#fff" stroke-width="0.7" opacity="0.9"/>
<rect x="459.1" y="260.2" width="10" height="5.8"/>
<rect x="456.1" y="266.5" width="15" height="2.2"/>
<rect x="474.9" y="267.2" width="5" height="3.8"/>
<rect x="471.1" y="268.2" width="3.8" height="1.2"/>
<rect x="442.3" y="269.8" width="32.6" height="8.2"/>
<line x1="470.9" y1="269.8" x2="470.9" y2="278" stroke="#a9c0df" stroke-width="0.6"/>
<line x1="457.3" y1="269.8" x2="457.3" y2="278" stroke="#a9c0df" stroke-width="0.6"/>
<rect x="250.3" y="339.9" width="93.7" height="2.6"/>
<rect x="253.4" y="343" width="88" height="20.8"/>
<polygon points="253.4,365 341.4,365 310.7,425 283.3,425"/>
<rect x="251.3" y="369" width="6.8" height="81.2"/>
<rect x="336.2" y="369" width="6.2" height="81.2"/>
<rect x="250.6" y="448.5" width="10.2" height="2.3"/>
<rect x="333.6" y="448.5" width="11.4" height="2.3"/>
<polygon points="258.1,385 258.1,394 266,404.9 270.5,404.9"/>
<polygon points="336.2,385 336.2,394 328.4,404.9 324,404.9"/>
<rect x="252.6" y="404.6" width="88.3" height="5.1" rx="2.5" stroke="#fff" stroke-width="0.9"/>
<rect x="266.5" y="418.6" width="14.5" height="2.8"/>
<rect x="265" y="417.2" width="1.6" height="5.6"/>
<rect x="272" y="417.6" width="3" height="4.8"/>
<rect x="282" y="425" width="29.4" height="2.6"/>
<polygon points="287.2,430.2 308,430.2 305.5,439.4 291.1,439.4"/>
<rect x="278" y="440.2" width="211" height="9.4"/>
<rect x="275.4" y="441" width="3.6" height="7.8" rx="1.6"/>
<rect x="488.2" y="439.6" width="3.4" height="10.6" rx="1.2"/>
<rect x="476.4" y="449.6" width="8.2" height="2"/>
<defs><linearGradient id="g1" gradientUnits="userSpaceOnUse" x1="0" y1="-3" x2="0" y2="497"><stop offset="0" stop-color="#8ba8c5"/><stop offset="1" stop-color="#6384b2"/></linearGradient></defs>
<g transform="translate(67.6,3)" fill="url(#g1)">
<path d="M0,0H30A24,20 0 0 1 54,20V35.4L44.6,41.4L39,34V40.6H0z"/>
<polygon points="45.2,41.8 55.2,35.9 62.2,45.2 49.6,52.6"/>
<line x1="-20.4" y1="21.9" x2="55.3" y2="21.9" stroke="#d3deee" stroke-width="0.9"/>
<rect x="-20.4" y="22.4" width="18.6" height="1.2"/>
<polygon points="-20.2,24.3 -1.8,24.3 -1.8,39.4"/>
<circle cx="-10.1" cy="16.3" r="5.4"/>
<circle cx="-10.1" cy="16.3" r="3.6" fill="#fff"/>
<circle cx="-10.1" cy="16.3" r="2.1" fill="#e6edf6" stroke="#89a7c4" stroke-width="0.8"/>
<circle cx="-10.1" cy="16.3" r="0.8"/>
<rect x="-14.6" y="20.4" width="9" height="1.4"/>
<rect x="0.3" y="41.8" width="17" height="406.5"/>
<rect x="21.6" y="41.8" width="17.4" height="406.5"/>
<rect x="-2.6" y="448.3" width="45" height="2.3"/>
<rect x="0.4" y="450.6" width="37.9" height="44.2"/>
<polygon points="-34.4,450.7 -2.2,450.7 -2.2,481.3"/>
<polygon points="41,450.7 72.3,450.7 41,479.9"/>
<line x1="9" y1="456.3" x2="9" y2="494.3" stroke="#8eabd2" stroke-width="0.6"/>
<line x1="30" y1="456.3" x2="30" y2="494.3" stroke="#8eabd2" stroke-width="0.6"/>
<rect x="12.5" y="471.3" width="13.4" height="13.4" rx="2" fill="none" stroke="#fff" stroke-width="0.9"/>
<circle cx="19.2" cy="478" r="4.2" fill="none" stroke="#fff" stroke-width="0.8"/>
<circle cx="19.2" cy="478" r="1.8" fill="none" stroke="#fff" stroke-width="0.7"/>
</g>
<defs><linearGradient id="g2" gradientUnits="userSpaceOnUse" x1="0" y1="-377.9" x2="0" y2="122.1"><stop offset="0" stop-color="#8ba8c5"/><stop offset="1" stop-color="#6384b2"/></linearGradient></defs>
<g transform="translate(15,377.9)" fill="url(#g2)">
<rect x="18.3" y="-28.8" width="11.3" height="10.2"/>
<line x1="21.4" y1="-26.2" x2="26.6" y2="-26.2" stroke="#c9d7ea" stroke-width="0.6"/>
<line x1="21.4" y1="-24.2" x2="26.6" y2="-24.2" stroke="#c9d7ea" stroke-width="0.6"/>
<line x1="21.4" y1="-22.2" x2="26.6" y2="-22.2" stroke="#c9d7ea" stroke-width="0.6"/>
<rect x="10.4" y="-17.1" width="10.9" height="9.7"/>
<rect x="22" y="-17.4" width="17.8" height="10.8"/>
<polygon points="16.6,-7 34.4,-7 29.6,-2.4 21.2,-2.4"/>
<rect x="-3.8" y="-2" width="52.4" height="1.4"/>
<rect x="0" y="0" width="45.4" height="71"/>
<rect x="-3.8" y="71" width="52.4" height="1.9"/>
<rect x="-3.8" y="12.5" width="52.4" height="3" fill="#e3ebf5"/>
<rect x="-3.8" y="13.3" width="52.4" height="1.4"/>
<rect x="2.2" y="16.5" width="44.6" height="8" rx="4" stroke="#fff" stroke-width="0.85"/>
<rect x="-3" y="19.4" width="5.2" height="1.2"/>
<rect x="9.2" y="9.8" width="2.5" height="11.2" rx="1.2" stroke="#fff" stroke-width="0.8"/>
<rect x="22.1" y="9.8" width="2.5" height="11.2" rx="1.2" stroke="#fff" stroke-width="0.8"/>
<rect x="35" y="9.8" width="2.5" height="11.2" rx="1.2" stroke="#fff" stroke-width="0.8"/>
<path d="M12,39.3h20.5v3.7a1.7,1.7 0 0 0 0,3.4v10a1.7,1.7 0 0 0 0,3.4v4.2h-20.5v-4.2a1.7,1.7 0 0 0 0,-3.4v-10a1.7,1.7 0 0 0 0,-3.4z" fill="none" stroke="#fff" stroke-width="0.9"/>
</g>
<polyline points="553.2,155.2 641,233.5" fill="none" stroke="url(#gp)" stroke-width="4.6" stroke-linejoin="miter"/>
<polyline points="750.5,285.6 738,285.6 738,235 706,235" fill="none" stroke="url(#gp)" stroke-width="4.6" stroke-linejoin="miter"/>
<path fill="#8497c2" d="M558.8,160.2 559.1,157.3 557.9,156.3 557.7,159.2 554.9,159.8 556,160.8zM571.3,171.4 571.6,168.5 570.5,167.5 570.2,170.4 567.4,171 568.5,172zM583.9,182.6 584.1,179.7 583,178.7 582.8,181.6 580,182.2 581.1,183.2zM596.4,193.8 596.7,190.9 595.6,189.9 595.3,192.8 592.5,193.3 593.6,194.3zM609,204.9 609.2,202.1 608.1,201.1 607.9,203.9 605.1,204.5 606.2,205.5zM621.5,216.1 621.8,213.3 620.7,212.3 620.4,215.1 617.6,215.7 618.7,216.7zM634.1,227.3 634.3,224.5 633.2,223.5 632.9,226.3 630.1,226.9 631.3,227.9zM744.5,285.6 746.2,287.9 747.7,287.9 746,285.6 747.7,283.3 746.2,283.3zM738,275.2 735.7,276.9 735.7,278.4 738,276.7 740.3,278.4 740.3,276.9zM738,258.4 735.7,260.1 735.7,261.6 738,259.9 740.3,261.6 740.3,260.1zM738,241.5 735.7,243.2 735.7,244.7 738,243 740.3,244.7 740.3,243.2zM728.5,235 730.2,237.3 731.7,237.3 730,235 731.7,232.7 730.2,232.7zM712.5,235 714.2,237.3 715.7,237.3 714,235 715.7,232.7 714.2,232.7z"/>
<path fill="#5283bf" d="M560.8,162 561,159.1 559.9,158.1 559.7,161 556.9,161.5 558,162.5zM573.3,173.1 573.6,170.3 572.5,169.3 572.2,172.1 569.4,172.7 570.5,173.7zM585.9,184.3 586.1,181.5 585,180.5 584.7,183.3 581.9,183.9 583.1,184.9zM598.4,195.5 598.7,192.7 597.6,191.7 597.3,194.5 594.5,195.1 595.6,196.1zM611,206.7 611.2,203.9 610.1,202.9 609.8,205.7 607,206.3 608.2,207.3zM623.5,217.9 623.8,215 622.6,214 622.4,216.9 619.6,217.5 620.7,218.5zM636,229.1 636.3,226.2 635.2,225.2 634.9,228.1 632.1,228.7 633.2,229.7zM741.9,285.6 743.6,287.9 745.1,287.9 743.4,285.6 745.1,283.3 743.6,283.3zM738,272.6 735.7,274.3 735.7,275.8 738,274.1 740.3,275.8 740.3,274.3zM738,255.7 735.7,257.4 735.7,258.9 738,257.2 740.3,258.9 740.3,257.4zM738,238.8 735.7,240.5 735.7,242 738,240.3 740.3,242 740.3,240.5zM725.9,235 727.6,237.3 729.1,237.3 727.4,235 729.1,232.7 727.6,232.7zM709.9,235 711.6,237.3 713.1,237.3 711.4,235 713.1,232.7 711.6,232.7z"/>
<path fill="#1b559c" d="M562.8,163.7 563,160.9 561.9,159.9 561.6,162.7 558.8,163.3 560,164.3zM575.3,174.9 575.6,172.1 574.4,171.1 574.2,173.9 571.4,174.5 572.5,175.5zM587.8,186.1 588.1,183.2 587,182.2 586.7,185.1 583.9,185.7 585,186.7zM600.4,197.3 600.6,194.4 599.5,193.4 599.3,196.3 596.5,196.9 597.6,197.9zM612.9,208.5 613.2,205.6 612.1,204.6 611.8,207.5 609,208.1 610.1,209.1zM625.5,219.7 625.7,216.8 624.6,215.8 624.4,218.7 621.6,219.2 622.7,220.2zM638,230.8 638.3,228 637.2,227 636.9,229.8 634.1,230.4 635.2,231.4zM739.2,285.6 740.9,287.9 742.4,287.9 740.7,285.6 742.4,283.3 740.9,283.3zM738,269.9 735.7,271.6 735.7,273.1 738,271.4 740.3,273.1 740.3,271.6zM738,253.1 735.7,254.8 735.7,256.3 738,254.6 740.3,256.3 740.3,254.8zM738,236.2 735.7,237.9 735.7,239.4 738,237.7 740.3,239.4 740.3,237.9zM723.2,235 724.9,237.3 726.4,237.3 724.7,235 726.4,232.7 724.9,232.7zM707.2,235 708.9,237.3 710.4,237.3 708.7,235 710.4,232.7 708.9,232.7z"/>
<defs><linearGradient id="g3" gradientUnits="userSpaceOnUse" x1="0" y1="-107.5" x2="0" y2="392.5"><stop offset="0" stop-color="#8ba8c5"/><stop offset="1" stop-color="#6384b2"/></linearGradient></defs>
<g transform="translate(494.7,107.5)" fill="url(#g3)">
<path d="M0,0H30A24,20 0 0 1 54,20V35.4L44.6,41.4L39,34V40.6H0z"/>
<polygon points="45.2,41.8 55.2,35.9 62.2,45.2 49.6,52.6"/>
<line x1="-20.4" y1="21.9" x2="55.3" y2="21.9" stroke="#d3deee" stroke-width="0.9"/>
<rect x="-20.4" y="22.4" width="18.6" height="1.2"/>
<polygon points="-20.2,24.3 -1.8,24.3 -1.8,39.4"/>
<circle cx="-10.1" cy="16.3" r="5.4"/>
<circle cx="-10.1" cy="16.3" r="3.6" fill="#fff"/>
<circle cx="-10.1" cy="16.3" r="2.1" fill="#e6edf6" stroke="#819fc0" stroke-width="0.8"/>
<circle cx="-10.1" cy="16.3" r="0.8"/>
<rect x="-14.6" y="20.4" width="9" height="1.4"/>
<rect x="0.3" y="41.8" width="17" height="301"/>
<rect x="21.6" y="41.8" width="17.4" height="301"/>
<rect x="-2.6" y="342.8" width="45" height="2.3"/>
<rect x="0.4" y="345.1" width="37.9" height="44.2"/>
<polygon points="-34.4,345.2 -2.2,345.2 -2.2,375.8"/>
<polygon points="41,345.2 72.3,345.2 41,374.4"/>
<line x1="9" y1="350.8" x2="9" y2="388.8" stroke="#8eabd2" stroke-width="0.6"/>
<line x1="30" y1="350.8" x2="30" y2="388.8" stroke="#8eabd2" stroke-width="0.6"/>
<rect x="12.5" y="365.8" width="13.4" height="13.4" rx="2" fill="none" stroke="#fff" stroke-width="0.9"/>
<circle cx="19.2" cy="372.5" r="4.2" fill="none" stroke="#fff" stroke-width="0.8"/>
<circle cx="19.2" cy="372.5" r="1.8" fill="none" stroke="#fff" stroke-width="0.7"/>
</g>
<defs><linearGradient id="g4" gradientUnits="userSpaceOnUse" x1="0" y1="-377.9" x2="0" y2="122.1"><stop offset="0" stop-color="#8ba8c5"/><stop offset="1" stop-color="#6384b2"/></linearGradient></defs>
<g transform="translate(540,377.9)" fill="url(#g4)">
<rect x="19" y="-28.8" width="11.3" height="10.2"/>
<line x1="22" y1="-26.2" x2="27.2" y2="-26.2" stroke="#c9d7ea" stroke-width="0.6"/>
<line x1="22" y1="-24.2" x2="27.2" y2="-24.2" stroke="#c9d7ea" stroke-width="0.6"/>
<line x1="22" y1="-22.2" x2="27.2" y2="-22.2" stroke="#c9d7ea" stroke-width="0.6"/>
<rect x="27.3" y="-17.1" width="10.9" height="9.7"/>
<rect x="8.8" y="-17.4" width="17.8" height="10.8"/>
<polygon points="14.2,-7 32,-7 27.4,-2.4 19,-2.4"/>
<rect x="-3.8" y="-2" width="52.4" height="1.4"/>
<rect x="0" y="0" width="45.4" height="71"/>
<rect x="-3.8" y="71" width="52.4" height="1.9"/>
<rect x="-3.8" y="12.5" width="52.4" height="3" fill="#e3ebf5"/>
<rect x="-3.8" y="13.3" width="52.4" height="1.4"/>
<rect x="2.2" y="16.5" width="44.6" height="8" rx="4" stroke="#fff" stroke-width="0.85"/>
<rect x="-3" y="19.4" width="5.2" height="1.2"/>
<rect x="9.2" y="9.8" width="2.5" height="11.2" rx="1.2" stroke="#fff" stroke-width="0.8"/>
<rect x="22.1" y="9.8" width="2.5" height="11.2" rx="1.2" stroke="#fff" stroke-width="0.8"/>
<rect x="35" y="9.8" width="2.5" height="11.2" rx="1.2" stroke="#fff" stroke-width="0.8"/>
<path d="M12,39.3h20.5v3.7a1.7,1.7 0 0 0 0,3.4v10a1.7,1.7 0 0 0 0,3.4v4.2h-20.5v-4.2a1.7,1.7 0 0 0 0,-3.4v-10a1.7,1.7 0 0 0 0,-3.4z" fill="none" stroke="#fff" stroke-width="0.9"/>
</g>
<defs><linearGradient id="g5" gradientUnits="userSpaceOnUse" x1="0" y1="-109" x2="0" y2="391"><stop offset="0" stop-color="#8ba8c5"/><stop offset="1" stop-color="#6384b2"/></linearGradient></defs>
<g transform="translate(641.8,109)" fill="url(#g5)">
<rect x="18.6" y="-28.8" width="11.3" height="10.2"/>
<line x1="21.6" y1="-26.2" x2="26.9" y2="-26.2" stroke="#c9d7ea" stroke-width="0.6"/>
<line x1="21.6" y1="-24.2" x2="26.9" y2="-24.2" stroke="#c9d7ea" stroke-width="0.6"/>
<line x1="21.6" y1="-22.2" x2="26.9" y2="-22.2" stroke="#c9d7ea" stroke-width="0.6"/>
<rect x="26.9" y="-17.1" width="10.9" height="9.7"/>
<rect x="8.4" y="-17.4" width="17.8" height="10.8"/>
<polygon points="13.8,-7 31.6,-7 27,-2.4 18.6,-2.4"/>
<rect x="-3.8" y="-2" width="52" height="1.4"/>
<rect x="0" y="0" width="45" height="71"/>
<rect x="-3.8" y="71" width="52" height="1.9"/>
<rect x="-3.8" y="12.5" width="52" height="3" fill="#e3ebf5"/>
<rect x="-3.8" y="13.3" width="52" height="1.4"/>
<rect x="2.2" y="16.5" width="44.2" height="8" rx="4" stroke="#fff" stroke-width="0.85"/>
<rect x="-3" y="19.4" width="5.2" height="1.2"/>
<rect x="9.2" y="9.8" width="2.5" height="11.2" rx="1.2" stroke="#fff" stroke-width="0.8"/>
<rect x="22.1" y="9.8" width="2.5" height="11.2" rx="1.2" stroke="#fff" stroke-width="0.8"/>
<rect x="35" y="9.8" width="2.5" height="11.2" rx="1.2" stroke="#fff" stroke-width="0.8"/>
<path d="M12,39.3h20.5v3.7a1.7,1.7 0 0 0 0,3.4v10a1.7,1.7 0 0 0 0,3.4v4.2h-20.5v-4.2a1.7,1.7 0 0 0 0,-3.4v-10a1.7,1.7 0 0 0 0,-3.4z" fill="none" stroke="#fff" stroke-width="0.9"/>
</g>
<rect x="638" y="180.2" width="52.5" height="1.8"/>
<path d="M641.6,182H687.5L693.5,201H641.6z"/>
<line x1="652" y1="196" x2="668" y2="196" stroke="#a9c0df" stroke-width="0.6"/>
<rect x="639.5" y="200.4" width="57.3" height="2.2"/>
<polygon points="641.6,203.2 695.6,203.2 680,226 657.2,226"/>
<line x1="692.5" y1="203.8" x2="676.5" y2="226" stroke="#fff" stroke-width="0.7"/>
<line x1="644.8" y1="203.8" x2="660.5" y2="226" stroke="#fff" stroke-width="0.7"/>
<rect x="653.6" y="226.6" width="27.6" height="4.2"/>
<rect x="645.6" y="227.4" width="8" height="2"/>
<rect x="644.8" y="226.2" width="1.2" height="4.4"/>
<rect x="641.6" y="232.6" width="50.6" height="2"/>
<circle cx="644" cy="233.6" r="0.3" fill="#dfe8f4"/>
<circle cx="646.7" cy="233.6" r="0.3" fill="#dfe8f4"/>
<circle cx="649.4" cy="233.6" r="0.3" fill="#dfe8f4"/>
<circle cx="652.1" cy="233.6" r="0.3" fill="#dfe8f4"/>
<circle cx="654.8" cy="233.6" r="0.3" fill="#dfe8f4"/>
<circle cx="657.5" cy="233.6" r="0.3" fill="#dfe8f4"/>
<circle cx="660.2" cy="233.6" r="0.3" fill="#dfe8f4"/>
<circle cx="662.9" cy="233.6" r="0.3" fill="#dfe8f4"/>
<circle cx="665.6" cy="233.6" r="0.3" fill="#dfe8f4"/>
<circle cx="668.3" cy="233.6" r="0.3" fill="#dfe8f4"/>
<circle cx="671" cy="233.6" r="0.3" fill="#dfe8f4"/>
<circle cx="673.7" cy="233.6" r="0.3" fill="#dfe8f4"/>
<circle cx="676.4" cy="233.6" r="0.3" fill="#dfe8f4"/>
<circle cx="679.1" cy="233.6" r="0.3" fill="#dfe8f4"/>
<circle cx="681.8" cy="233.6" r="0.3" fill="#dfe8f4"/>
<circle cx="684.5" cy="233.6" r="0.3" fill="#dfe8f4"/>
<circle cx="687.2" cy="233.6" r="0.3" fill="#dfe8f4"/>
<circle cx="689.9" cy="233.6" r="0.3" fill="#dfe8f4"/>
<path d="M688.2,237V228.4Q688.2,223.8 692.8,223.8Q697,223.8 699.4,228.4L709,247L722,272" fill="none" stroke="url(#g)" stroke-width="7.8" stroke-linejoin="round"/>
<path d="M642.8,235.6H699L712,262L725,283V294H703.4V302.2H634.6V287L628.6,275V252.5z"/>
<line x1="696.2" y1="232.5" x2="716.5" y2="270.5" stroke="#fff" stroke-width="0.7" opacity="0.85"/>
<rect x="703.4" y="293.6" width="21.6" height="4.8"/>
<line x1="711.4" y1="296" x2="711.4" y2="298.4" stroke="#fff" stroke-width="0.8"/>
<line x1="717.4" y1="296" x2="717.4" y2="298.4" stroke="#fff" stroke-width="0.8"/>
<line x1="703.4" y1="293.4" x2="725" y2="293.4" stroke="#fff" stroke-width="0.7"/>
<rect x="632.4" y="303.2" width="71.2" height="1.8"/>
<path d="M645.6,259.8L679,240.2A9.4,9.4 0 0 1 692.4,242.1L723,276.3A11.8,11.8 0 0 1 710.7,294.7L650.3,280.9A12,12 0 0 1 645.6,259.8z" stroke="#fff" stroke-width="1.1"/>
<path d="M647.4,261.9L680.6,242.2A6.8,6.8 0 0 1 690.3,243.6L720.7,277.9A9,9 0 0 1 711.3,292L650.9,278.2A9.2,9.2 0 0 1 647.4,261.9z" fill="none" stroke="#fff" stroke-width="0.8"/>
<line x1="684.8" y1="252.5" x2="685.3" y2="262" stroke="#fff" stroke-width="0.7"/>
<line x1="680" y1="250" x2="678.6" y2="266" stroke="#fff" stroke-width="0.6"/>
<line x1="689.6" y1="250" x2="692" y2="266" stroke="#fff" stroke-width="0.6"/>
<line x1="659" y1="264" x2="680" y2="262.5" stroke="#fff" stroke-width="0.6"/>
<line x1="659" y1="275" x2="680" y2="275" stroke="#fff" stroke-width="0.6"/>
<circle cx="653" cy="269.2" r="7.2" fill="none" stroke="#fff" stroke-width="0.9"/>
<circle cx="653" cy="269.2" r="2" fill="#fff"/>
<circle cx="685.3" cy="268.7" r="7.6" fill="none" stroke="#fff" stroke-width="0.9"/>
<circle cx="685.3" cy="268.7" r="2" fill="#fff"/>
<circle cx="684.8" cy="247.6" r="5.2" fill="none" stroke="#fff" stroke-width="0.9"/>
<circle cx="684.8" cy="247.6" r="2" fill="#fff"/>
<circle cx="713.4" cy="283.2" r="7" fill="none" stroke="#fff" stroke-width="0.9"/>
<circle cx="713.4" cy="283.2" r="2" fill="#fff"/>
<rect x="633" y="314.7" width="67.4" height="2.3"/>
<polygon points="634.8,317.7 699.2,317.7 679.4,358.9 654.7,358.9"/>
<line x1="637.4" y1="318.4" x2="663.4" y2="358.9" stroke="#fff" stroke-width="0.9"/>
<line x1="697.4" y1="318.4" x2="670.8" y2="358.9" stroke="#fff" stroke-width="0.9"/>
<rect x="654" y="359" width="27" height="4.6"/>
<rect x="645.5" y="360.4" width="8.5" height="2"/>
<rect x="644.3" y="359" width="1.4" height="5"/>
<path d="M655.2,365.8H680.4L681,375.5L677,384H659L654.6,375.5z"/>
<rect x="653.4" y="386.6" width="27.6" height="63.2" rx="1.5"/>
<rect x="650.6" y="448.4" width="32.4" height="2"/>
<rect x="682.9" y="391.3" width="8.5" height="12.5"/>
<rect x="684.3" y="392.8" width="5.7" height="5.6" fill="none" stroke="#fff" stroke-width="0.6"/>
<rect x="707.7" y="421.8" width="14.3" height="28"/>
<rect x="706" y="448.4" width="17.6" height="2"/>
<rect x="656.7" y="414" width="78.1" height="7.8" rx="3.9" stroke="#fff" stroke-width="1"/>
<rect x="656.7" y="432.6" width="78.1" height="7.7" rx="3.9" stroke="#fff" stroke-width="1"/>
<rect x="704.1" y="386.4" width="1.6" height="25.6"/>
<path d="M699.6,388.2Q699.6,385.8 702,385.8H707.6Q710.2,385.8 710.2,388.2V389H708.8V387.4H701V389H699.6z"/>
<rect x="707.8" y="399.4" width="8" height="13.6" rx="1.5"/>
<rect x="699" y="409.6" width="22" height="1.6"/>
<rect x="700.6" y="405.4" width="1.2" height="4.6"/>
<rect x="701.6" y="411.2" width="3.4" height="2.8"/>
<rect x="716.2" y="411.2" width="3.2" height="2.8"/>
<defs><linearGradient id="g6" gradientUnits="userSpaceOnUse" x1="0" y1="-345" x2="0" y2="155"><stop offset="0" stop-color="#8ba8c5"/><stop offset="1" stop-color="#6384b2"/></linearGradient></defs>
<g transform="translate(770.5,345)" fill="url(#g6)">
<rect x="14" y="-30.4" width="10.5" height="10.6"/>
<line x1="17" y1="-27.4" x2="21.5" y2="-27.4" stroke="#c9d7ea" stroke-width="0.6"/>
<line x1="17" y1="-25.4" x2="21.5" y2="-25.4" stroke="#c9d7ea" stroke-width="0.6"/>
<rect x="4.2" y="-19" width="16.7" height="10.5"/>
<rect x="21.6" y="-19.4" width="12.2" height="10.6"/>
<polygon points="11.3,-8.6 29.8,-8.6 25.8,-3.8 14.7,-3.8"/>
<rect x="-1.9" y="-3.2" width="43.6" height="2.6"/>
<rect x="0" y="0" width="39.4" height="49"/>
<rect x="-1.9" y="49" width="43.6" height="1.8"/>
<rect x="-3.5" y="12.1" width="46" height="3" fill="#e3ebf5"/>
<rect x="-3.5" y="12.8" width="46" height="1.6"/>
<rect x="1.5" y="17.2" width="39" height="7.9" rx="3.9" stroke="#fff" stroke-width="0.85"/>
<rect x="12.4" y="9.3" width="3.2" height="10.5" rx="1.6" stroke="#fff" stroke-width="0.85"/>
<rect x="21.1" y="9.3" width="3.2" height="10.5" rx="1.6" stroke="#fff" stroke-width="0.85"/>
<rect x="29.6" y="9.3" width="3.2" height="10.5" rx="1.6" stroke="#fff" stroke-width="0.85"/>
<polygon points="0.8,51.6 39.1,51.6 25.3,72.7 14.8,72.7"/>
<rect x="-1.1" y="51.6" width="2.6" height="37"/>
<rect x="38.5" y="51.6" width="2.7" height="37"/>
<rect x="-2.4" y="87.4" width="5.2" height="1.4"/>
<rect x="37.2" y="87.4" width="5.3" height="1.4"/>
<rect x="1.5" y="82.5" width="13.3" height="1.9"/>
<rect x="14.8" y="75.3" width="11.1" height="11.9" rx="1"/>
<rect x="16.4" y="77" width="7.9" height="8.5" rx="0.8" fill="none" stroke="#fff" stroke-width="0.7"/>
<rect x="25.9" y="80.2" width="3.1" height="2.8"/>
<rect x="28.5" y="79.3" width="13.2" height="7.4" rx="1.4"/>
<circle cx="35.4" cy="83" r="1.8" fill="none" stroke="#fff" stroke-width="0.6"/>
<rect x="33.6" y="86.7" width="3.2" height="2.1"/>
</g>
<polyline points="824,285.2 788,285.2" fill="none" stroke="url(#gp)" stroke-width="4.6" stroke-linejoin="miter"/>
<polyline points="859,291 859,225 829.4,225 829.4,236" fill="none" stroke="url(#gp)" stroke-width="4.6" stroke-linejoin="miter"/>
<polyline points="926,282 899,282" fill="none" stroke="url(#gp)" stroke-width="4.6" stroke-linejoin="miter"/>
<polyline points="959.4,291 959.4,225 930.4,225 930.4,236" fill="none" stroke="url(#gp)" stroke-width="4.6" stroke-linejoin="miter"/>
<polyline points="1013,281.4 1000,281.4" fill="none" stroke="url(#gp)" stroke-width="4.6" stroke-linejoin="miter"/>
<path fill="#8497c2" d="M812.5,285.2 814.2,287.5 815.7,287.5 814,285.2 815.7,282.9 814.2,282.9zM794.5,285.2 796.2,287.5 797.7,287.5 796,285.2 797.7,282.9 796.2,282.9zM859,281 856.7,282.7 856.7,284.2 859,282.5 861.3,284.2 861.3,282.7zM859,264.5 856.7,266.2 856.7,267.7 859,266 861.3,267.7 861.3,266.2zM859,248 856.7,249.7 856.7,251.2 859,249.5 861.3,251.2 861.3,249.7zM859,231.5 856.7,233.2 856.7,234.7 859,233 861.3,234.7 861.3,233.2zM850.7,225 852.4,227.3 853.9,227.3 852.2,225 853.9,222.7 852.4,222.7zM835.9,225 837.6,227.3 839.1,227.3 837.4,225 839.1,222.7 837.6,222.7zM829.4,229.5 831.7,227.8 831.7,226.3 829.4,228 827.1,226.3 827.1,227.8zM919,282 920.7,284.3 922.2,284.3 920.5,282 922.2,279.7 920.7,279.7zM905.5,282 907.2,284.3 908.7,284.3 907,282 908.7,279.7 907.2,279.7zM959.4,281 957.1,282.7 957.1,284.2 959.4,282.5 961.7,284.2 961.7,282.7zM959.4,264.5 957.1,266.2 957.1,267.7 959.4,266 961.7,267.7 961.7,266.2zM959.4,248 957.1,249.7 957.1,251.2 959.4,249.5 961.7,251.2 961.7,249.7zM959.4,231.5 957.1,233.2 957.1,234.7 959.4,233 961.7,234.7 961.7,233.2zM951.4,225 953.1,227.3 954.6,227.3 952.9,225 954.6,222.7 953.1,222.7zM936.9,225 938.6,227.3 940.1,227.3 938.4,225 940.1,222.7 938.6,222.7zM930.4,229.5 932.7,227.8 932.7,226.3 930.4,228 928.1,226.3 928.1,227.8zM1006.5,281.4 1008.2,283.7 1009.7,283.7 1008,281.4 1009.7,279.1 1008.2,279.1z"/>
<path fill="#5283bf" d="M809.9,285.2 811.6,287.5 813.1,287.5 811.4,285.2 813.1,282.9 811.6,282.9zM791.9,285.2 793.6,287.5 795.1,287.5 793.4,285.2 795.1,282.9 793.6,282.9zM859,278.3 856.7,280.1 856.7,281.6 859,279.8 861.3,281.6 861.3,280.1zM859,261.8 856.7,263.6 856.7,265.1 859,263.3 861.3,265.1 861.3,263.6zM859,245.3 856.7,247 856.7,248.5 859,246.8 861.3,248.5 861.3,247zM859,228.8 856.7,230.5 856.7,232 859,230.3 861.3,232 861.3,230.5zM848,225 849.8,227.3 851.2,227.3 849.5,225 851.2,222.7 849.8,222.7zM833.2,225 835,227.3 836.5,227.3 834.8,225 836.5,222.7 835,222.7zM829.4,232.2 831.7,230.5 831.7,229 829.4,230.7 827.1,229 827.1,230.5zM916.4,282 918.1,284.3 919.6,284.3 917.9,282 919.6,279.7 918.1,279.7zM902.9,282 904.6,284.3 906.1,284.3 904.4,282 906.1,279.7 904.6,279.7zM959.4,278.3 957.1,280.1 957.1,281.6 959.4,279.8 961.7,281.6 961.7,280.1zM959.4,261.8 957.1,263.6 957.1,265.1 959.4,263.3 961.7,265.1 961.7,263.6zM959.4,245.3 957.1,247 957.1,248.5 959.4,246.8 961.7,248.5 961.7,247zM959.4,228.8 957.1,230.5 957.1,232 959.4,230.3 961.7,232 961.7,230.5zM948.8,225 950.5,227.3 952,227.3 950.2,225 952,222.7 950.5,222.7zM934.2,225 936,227.3 937.5,227.3 935.8,225 937.5,222.7 936,222.7zM930.4,232.2 932.7,230.5 932.7,229 930.4,230.7 928.1,229 928.1,230.5zM1003.9,281.4 1005.6,283.7 1007.1,283.7 1005.4,281.4 1007.1,279.1 1005.6,279.1z"/>
<path fill="#1b559c" d="M807.2,285.2 808.9,287.5 810.4,287.5 808.7,285.2 810.4,282.9 808.9,282.9zM789.2,285.2 790.9,287.5 792.4,287.5 790.7,285.2 792.4,282.9 790.9,282.9zM859,275.7 856.7,277.4 856.7,278.9 859,277.2 861.3,278.9 861.3,277.4zM859,259.2 856.7,260.9 856.7,262.4 859,260.7 861.3,262.4 861.3,260.9zM859,242.7 856.7,244.4 856.7,245.9 859,244.2 861.3,245.9 861.3,244.4zM859,226.2 856.7,227.9 856.7,229.4 859,227.7 861.3,229.4 861.3,227.9zM845.4,225 847.1,227.3 848.6,227.3 846.9,225 848.6,222.7 847.1,222.7zM830.6,225 832.3,227.3 833.8,227.3 832.1,225 833.8,222.7 832.3,222.7zM829.4,234.8 831.7,233.1 831.7,231.6 829.4,233.3 827.1,231.6 827.1,233.1zM913.7,282 915.4,284.3 916.9,284.3 915.2,282 916.9,279.7 915.4,279.7zM900.2,282 901.9,284.3 903.4,284.3 901.7,282 903.4,279.7 901.9,279.7zM959.4,275.7 957.1,277.4 957.1,278.9 959.4,277.2 961.7,278.9 961.7,277.4zM959.4,259.2 957.1,260.9 957.1,262.4 959.4,260.7 961.7,262.4 961.7,260.9zM959.4,242.7 957.1,244.4 957.1,245.9 959.4,244.2 961.7,245.9 961.7,244.4zM959.4,226.2 957.1,227.9 957.1,229.4 959.4,227.7 961.7,229.4 961.7,227.9zM946.1,225 947.8,227.3 949.3,227.3 947.6,225 949.3,222.7 947.8,222.7zM931.6,225 933.3,227.3 934.8,227.3 933.1,225 934.8,222.7 933.3,222.7zM930.4,234.8 932.7,233.1 932.7,231.6 930.4,233.3 928.1,231.6 928.1,233.1zM1001.2,281.4 1002.9,283.7 1004.4,283.7 1002.7,281.4 1004.4,279.1 1002.9,279.1z"/>
<rect x="750.6" y="279.8" width="12.6" height="10.2"/>
<rect x="764.2" y="283.2" width="3.6" height="3.3"/>
<rect x="769" y="278.2" width="19" height="14" rx="2.2"/>
<line x1="771.6" y1="281.8" x2="784.2" y2="281.8" stroke="#fff" stroke-width="0.8"/>
<line x1="771.6" y1="285" x2="784.2" y2="285" stroke="#fff" stroke-width="0.8"/>
<line x1="771.6" y1="288.2" x2="784.2" y2="288.2" stroke="#fff" stroke-width="0.8"/>
<rect x="771" y="292" width="15" height="1.8"/>
<rect x="751.1" y="294" width="37.9" height="3.3"/>
<rect x="750.2" y="297.7" width="39.7" height="1.2"/>
<rect x="862.4" y="279.8" width="12.6" height="10.2"/>
<rect x="876" y="283.2" width="3.6" height="3.3"/>
<rect x="880.8" y="278.2" width="19" height="14" rx="2.2"/>
<line x1="883.4" y1="281.8" x2="896" y2="281.8" stroke="#fff" stroke-width="0.8"/>
<line x1="883.4" y1="285" x2="896" y2="285" stroke="#fff" stroke-width="0.8"/>
<line x1="883.4" y1="288.2" x2="896" y2="288.2" stroke="#fff" stroke-width="0.8"/>
<rect x="882.8" y="292" width="15" height="1.8"/>
<rect x="862.9" y="294" width="37.9" height="3.3"/>
<rect x="862" y="297.7" width="39.7" height="1.2"/>
<rect x="963.6" y="279.8" width="12.6" height="10.2"/>
<rect x="977.2" y="283.2" width="3.6" height="3.3"/>
<rect x="982" y="278.2" width="19" height="14" rx="2.2"/>
<line x1="984.6" y1="281.8" x2="997.2" y2="281.8" stroke="#fff" stroke-width="0.8"/>
<line x1="984.6" y1="285" x2="997.2" y2="285" stroke="#fff" stroke-width="0.8"/>
<line x1="984.6" y1="288.2" x2="997.2" y2="288.2" stroke="#fff" stroke-width="0.8"/>
<rect x="984" y="292" width="15" height="1.8"/>
<rect x="964.1" y="294" width="37.9" height="3.3"/>
<rect x="963.2" y="297.7" width="39.7" height="1.2"/>
<rect x="804.9" y="250" width="2.3" height="48.6"/>
<rect x="846.3" y="250" width="2.4" height="48.6"/>
<rect x="803.6" y="297.2" width="5" height="1.6"/>
<rect x="845" y="297.2" width="5" height="1.6"/>
<path d="M806.2,235.4Q806.2,233.9 807.8,233.9H846.5Q848.1,233.9 848.1,235.4V248.3L833.7,285.2H822L806.2,248.3z"/>
<rect x="822" y="287" width="11.2" height="5.7"/>
<rect x="804.9" y="271.8" width="43.8" height="2.8" stroke="#fff" stroke-width="0.7"/>
<rect x="804.9" y="292.7" width="43.8" height="2.3" stroke="#fff" stroke-width="0.5"/>
<rect x="913" y="266" width="2" height="30.2"/>
<rect x="921" y="266" width="2" height="34"/>
<rect x="938" y="266" width="1.6" height="27.6"/>
<rect x="947.6" y="266" width="2" height="30.2"/>
<path d="M911,236.4V268L928,282.6H935L950,268V236.4z"/>
<ellipse cx="930.5" cy="236.4" rx="19.5" ry="3"/>
<ellipse cx="930.5" cy="236.6" rx="18.6" ry="2.3" fill="none" stroke="#fff" stroke-width="0.6" opacity="0.85"/>
<line x1="921.4" y1="238.5" x2="921.4" y2="268" stroke="#fff" stroke-width="0.7"/>
<line x1="923" y1="238.6" x2="923" y2="268" stroke="#fff" stroke-width="0.7"/>
<line x1="911" y1="267.4" x2="950" y2="267.4" stroke="#fff" stroke-width="0.7"/>
<line x1="948.6" y1="239" x2="948.6" y2="267.4" stroke="#fff" stroke-width="0.6" opacity="0.8"/>
<path d="M1012,258V288Q1012,299.4 1024,299.4H1033Q1045,299.4 1045,288V258z"/>
<ellipse cx="1028.5" cy="258" rx="16.5" ry="5.2"/>
<ellipse cx="1028.5" cy="258.4" rx="15.6" ry="4.4" fill="none" stroke="#fff" stroke-width="0.8"/>
<rect x="1044" y="260" width="6.2" height="4.6"/>
<circle cx="1018.6" cy="272.4" r="1.1" fill="#fff"/>
<circle cx="1022.8" cy="272.4" r="0.8" fill="#fff"/>
<circle cx="1027" cy="272.4" r="1.1" fill="#fff"/>
<circle cx="1031.2" cy="272.4" r="0.8" fill="#fff"/>
<circle cx="1035.4" cy="272.4" r="1.1" fill="#fff"/>
<circle cx="1039.6" cy="272.4" r="0.8" fill="#fff"/>
<circle cx="1018.6" cy="276.8" r="0.8" fill="#fff"/>
<circle cx="1022.8" cy="276.8" r="1.1" fill="#fff"/>
<circle cx="1027" cy="276.8" r="0.8" fill="#fff"/>
<circle cx="1031.2" cy="276.8" r="1.1" fill="#fff"/>
<circle cx="1035.4" cy="276.8" r="0.8" fill="#fff"/>
<circle cx="1039.6" cy="276.8" r="1.1" fill="#fff"/>
<circle cx="1018.6" cy="281.2" r="1.1" fill="#fff"/>
<circle cx="1022.8" cy="281.2" r="0.8" fill="#fff"/>
<circle cx="1027" cy="281.2" r="1.1" fill="#fff"/>
<circle cx="1031.2" cy="281.2" r="0.8" fill="#fff"/>
<circle cx="1035.4" cy="281.2" r="1.1" fill="#fff"/>
<circle cx="1039.6" cy="281.2" r="0.8" fill="#fff"/>
<circle cx="1018.6" cy="285.6" r="0.8" fill="#fff"/>
<circle cx="1022.8" cy="285.6" r="1.1" fill="#fff"/>
<circle cx="1027" cy="285.6" r="0.8" fill="#fff"/>
<circle cx="1031.2" cy="285.6" r="1.1" fill="#fff"/>
<circle cx="1035.4" cy="285.6" r="0.8" fill="#fff"/>
<circle cx="1039.6" cy="285.6" r="1.1" fill="#fff"/>
</g>
<g style="mix-blend-mode:multiply"><path d="M251,161.5L161.4,274.5Q159.6,277.8 163.4,277.8H191.5L201.7,251.5H214.4L211,277.8H246V168z" fill="#fdeeed"/><path d="M251,161.5L252.4,277.8H286L289,246L301,277.8H338z" fill="#fdeae8"/></g>
<path d="M251,161.5L161.4,274.5Q159.6,277.8 163.4,277.8H191.5L201.7,251.5H214.4L211,277.8H246V168z" fill="#ff7890" fill-opacity="0.09"/><path d="M251,161.5L252.4,277.8H286L289,246L301,277.8H338z" fill="#ff748c" fill-opacity="0.11"/>
<circle cx="323.3" cy="175.6" r="11.6" fill="none" stroke="#8f6f80" stroke-opacity="0.6" stroke-width="1"/><circle cx="323.3" cy="175.6" r="10.6" fill="none" stroke="#fff" stroke-opacity="0.5" stroke-width="0.8"/>
<text x="323.6" y="181.6" text-anchor="middle" font-size="17" font-weight="bold" style="font-family:Liberation Serif,serif" fill="#8f6f80" fill-opacity="0.55">R</text>
<g opacity="0.06">
<text x="377 517 648 778" y="279" font-size="124" font-weight="bold" style="font-family:'Liberation Sans','Noto Sans CJK SC',sans-serif" fill="none" stroke="#93a3b5" stroke-opacity="0.55" stroke-width="0.7" transform="translate(0.7,0.7)">恒富机械</text>
<text x="377 517 648 778" y="279" font-size="124" font-weight="bold" style="font-family:'Liberation Sans','Noto Sans CJK SC',sans-serif" fill="#edf2f6">恒富机械</text>
<g fill="#55637a" opacity="0.4" filter="url(#bl)" transform="translate(1.1,1.3)"><text x="155.5 224.5 300.5" y="337.5" font-size="43" font-weight="bold" style="font-family:'Liberation Sans','Noto Sans CJK SC',sans-serif">新恒富</text><text transform="translate(384.4,330.6) scale(1.07,1)" font-size="43.5" font-weight="bold" letter-spacing="0.45">HENGFU</text><text transform="translate(610.5,330.6) scale(1.1,1)" font-size="43.5" font-weight="bold" letter-spacing="0.45">MACHINERY</text></g>
<g fill="#f3f6f8"><text x="155.5 224.5 300.5" y="337.5" font-size="43" font-weight="bold" style="font-family:'Liberation Sans','Noto Sans CJK SC',sans-serif">新恒富</text><text transform="translate(384.4,330.6) scale(1.07,1)" font-size="43.5" font-weight="bold" letter-spacing="0.45">HENGFU</text><text transform="translate(610.5,330.6) scale(1.1,1)" font-size="43.5" font-weight="bold" letter-spacing="0.45">MACHINERY</text></g>
</g>
</svg>
</body></html>
